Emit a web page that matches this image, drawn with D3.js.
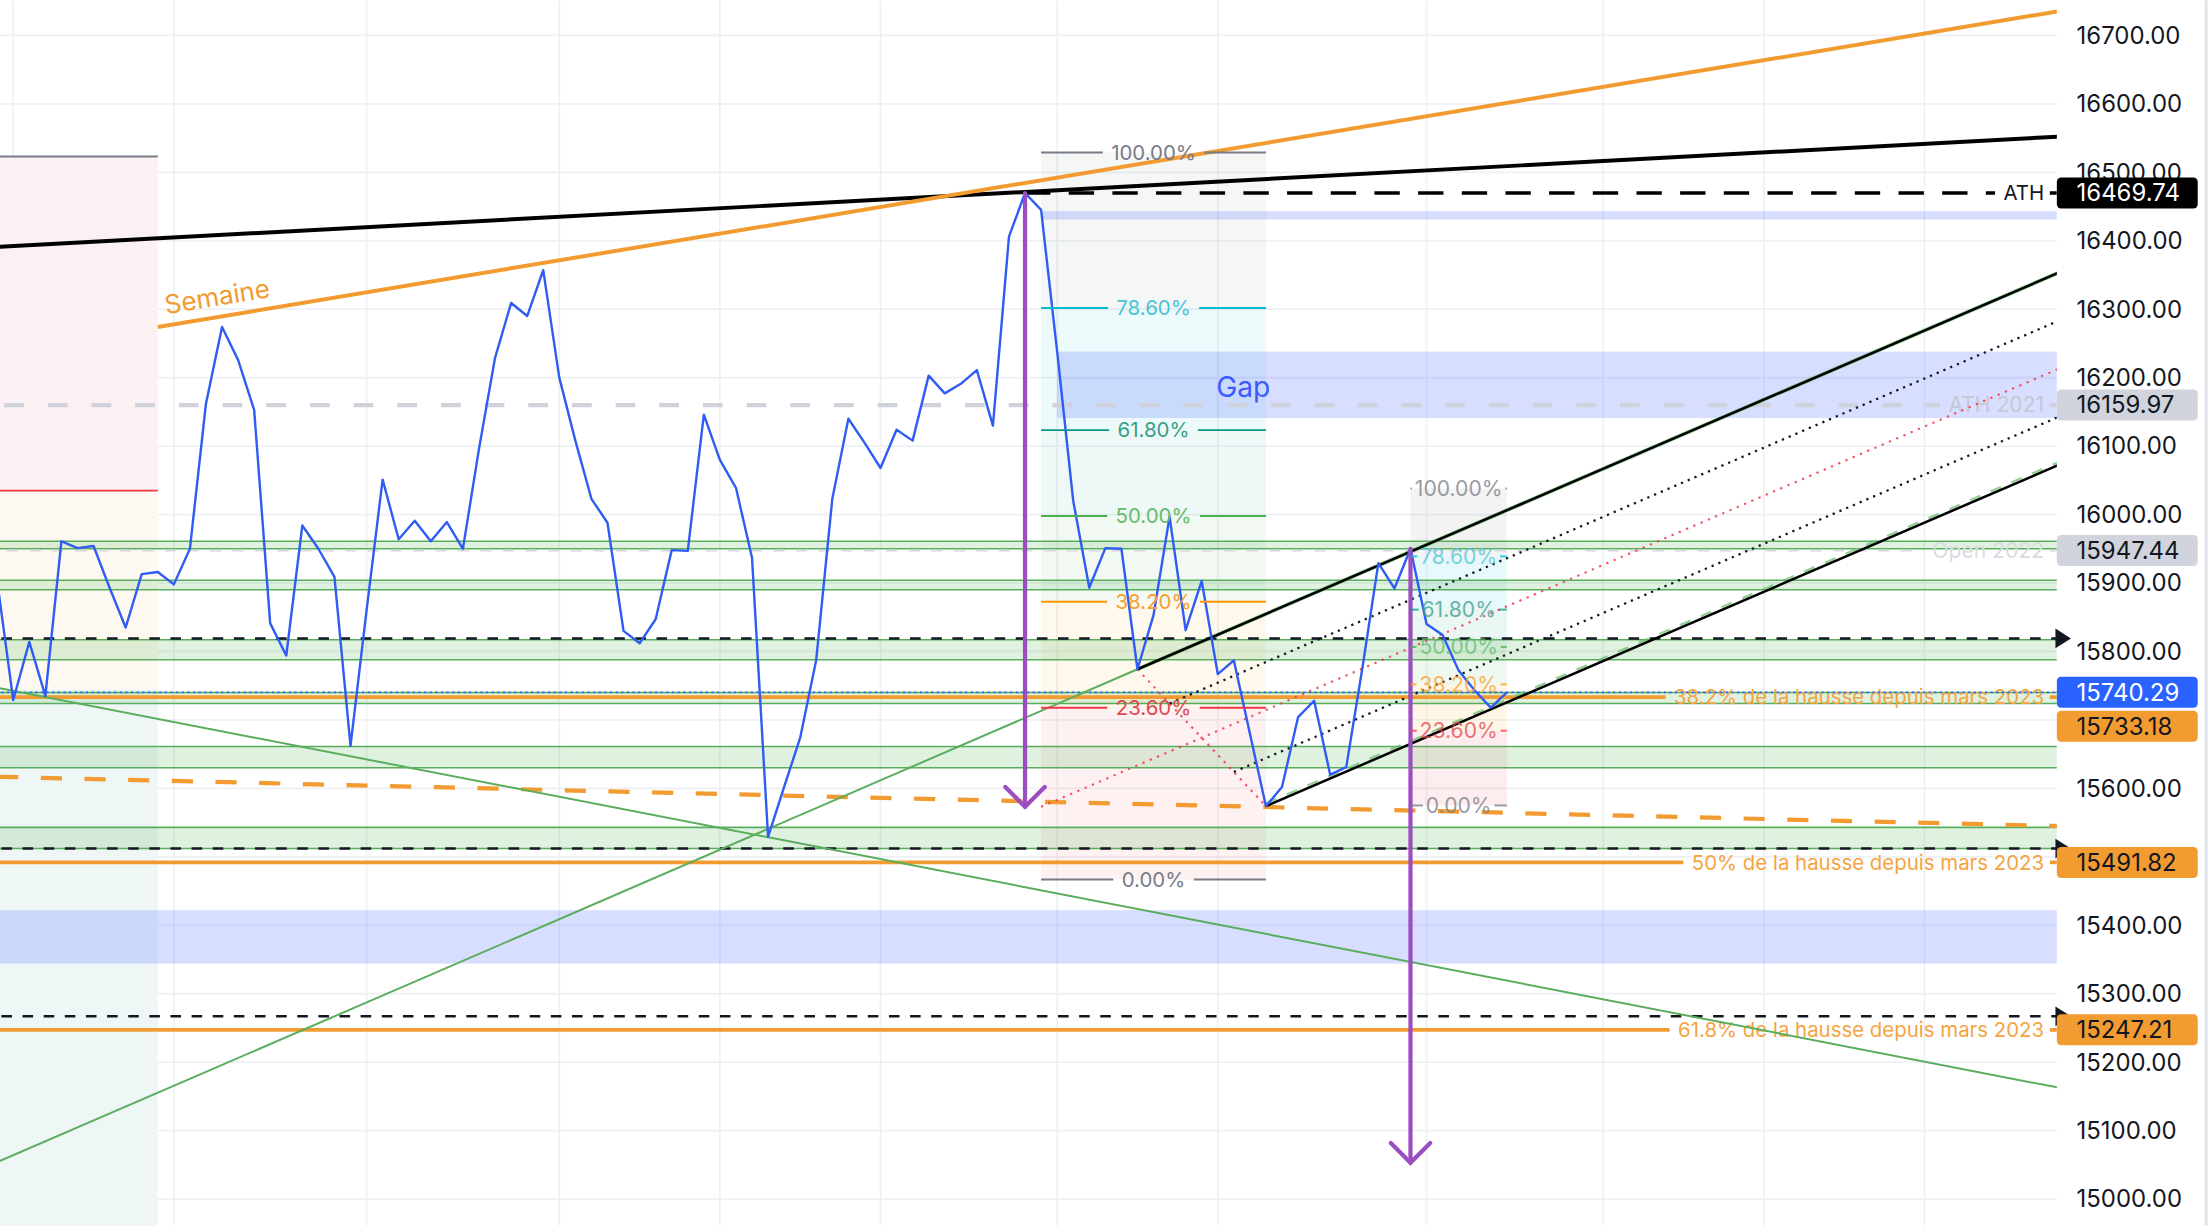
<!DOCTYPE html>
<html>
<head>
<meta charset="utf-8">
<script src="https://cdn.jsdelivr.net/npm/d3@7"></script>
<style>
  body { margin: 0; background: #fff; }
  svg { display: block; }
  text { font-family: Inter, "Noto Sans", "DejaVu Sans", sans-serif; }
</style>
</head>
<body>
<svg id="chart"></svg>
<script>
// ---- data ----
const closes = [
  15903, 15729, 15814, 15735, 15961, 15951, 15954, 15893, 15835, 15913,
  15916, 15898, 15950, 16162, 16274, 16226, 16153, 15841, 15794, 15984,
  15950, 15909, 15662, 15860, 16051, 15964, 15991, 15961, 15989, 15950,
  16096, 16229, 16309, 16290, 16357, 16200, 16108, 16023, 15988, 15830,
  15812, 15847, 15948, 15947, 16146, 16080, 16039, 15937, 15529, 15602,
  15674, 15788, 16023, 16140, 16105, 16068, 16124, 16108, 16203, 16177,
  16191, 16211, 16130, 16406, 16469.74, 16445, 16238, 16020, 15893, 15951,
  15950, 15774, 15853, 15997, 15831, 15903, 15767, 15787, 15680, 15574,
  15602, 15704, 15728, 15620, 15631, 15775, 15929, 15892, 15950, 15840,
  15824, 15772, 15743, 15718, 15740.29
]
const gridIdx = [1, 11, 23, 35, 45, 55, 66, 76, 89, 100, 110, 120]
const yTicks = d3.range(15000, 16701, 100)

const greenZones = [[15961, 15950], [15904, 15890], [15817, 15788], [15740, 15724], [15661, 15630], [15543, 15512]]
const blueZones = [[65, 16443, 16431], [66, 16238, 16141], [-5, 15422, 15344]]   // start index, top, bottom
const rays = [15819, 15512, 15267]

const resistance = [[0, 16391], [128.3, 16552]]
const weekLine = [[10, 16274], [128.3, 16735]]
const orangeDash = [[0, 15617], [128.3, 15545]]
const greenDown = [[0, 15747], [128.3, 15163]]
const greenUp = [[0, 15054], [71, 15774]]
const pitchfork = [[65, 15573], [71, 15774], [79, 15574]]

const fibRatios = [1, 0.786, 0.618, 0.5, 0.382, 0.236, 0]
const fibA = [65, 79, 16529, 15467]
const fibB = [88, 94, 16038, 15575]
const arrows = [[64, 16469.74, 15573], [88, 15950, 15053]]
const posBox = [-5, 10, 16523, 16035, 15745, 14900]

const athLevel = 16469.74
const ath2021 = 16159.97
const open2022 = 15947.44
const lastPrice = 15740.29
const riseLevels = [15733.18, 15491.82, 15247.21]
const riseLabels = ['38.2% de la hausse depuis mars 2023', '50% de la hausse depuis mars 2023', '61.8% de la hausse depuis mars 2023']
const priceTags = [16469.74, 16159.97, 15947.44, 15740.29, 15733.18, 15491.82, 15247.21]

// ---- layout ----
const W = 1568, H = 870, plotW = 1460
const svg = d3.select('#chart')
    .attr('width', 2209)
    .attr('height', 1226)
    .attr('viewBox', `0 0 ${W} ${H}`)

const x = d3.scaleLinear().domain([0, closes.length - 1]).range([-2, 1069.6])
const y = d3.scaleLinear().domain([15000, 16700]).range([851, 25])
const xEnd = x.invert(plotW)

svg.append('defs').append('clipPath').attr('id', 'plotClip')
    .append('rect').attr('width', plotW).attr('height', H)
const plot = svg.append('g').attr('clip-path', 'url(#plotClip)')

const line = d3.line().x(d => x(d[0])).y(d => y(d[1]))

const hline = (g, price, i1, i2) => g.append('line')
    .attr('x1', x(i1)).attr('x2', x(i2))
    .attr('y1', y(price)).attr('y2', y(price))

// grid
plot.append('g').selectAll('line').data(yTicks).join('line')
    .attr('x1', 0).attr('x2', plotW)
    .attr('y1', d => y(d)).attr('y2', d => y(d))
    .attr('stroke', '#eef0f4').attr('stroke-width', 1.2)
plot.append('g').selectAll('line').data(gridIdx).join('line')
    .attr('x1', d => x(d)).attr('x2', d => x(d))
    .attr('y1', 0).attr('y2', H)
    .attr('stroke', '#eef0f4').attr('stroke-width', 1.2)

// left position box
{
    const [a, b, target, stop, entry, bottom] = posBox
    const g = plot.append('g')
    const zone = (top, bot, fill) => g.append('rect')
        .attr('x', x(a)).attr('width', x(b) - x(a))
        .attr('y', y(top)).attr('height', y(bot) - y(top))
        .attr('fill', fill)
    zone(target, stop, '#fbf1f2')
    zone(stop, entry, '#fdf9f1')
    zone(entry, bottom, '#eff7f6')
    hline(g, target, a, b).attr('stroke', '#787b86').attr('stroke-width', 1.5)
    hline(g, stop, a, b).attr('stroke', '#f23645').attr('stroke-width', 1.2)
}

// fib retracements
const fibColors = ['#787b86', '#00bcd4', '#089981', '#4caf50', '#ff9800', '#f23645', '#787b86']
const fibText = ['#787b86', '#4cc3d6', '#3a9f87', '#66bb6a', '#f5a030', '#e0474c', '#787b86']
const fibLevels = f => fibRatios.map(r => f[3] + r * (f[2] - f[3]))

const fibZones = (f, alpha) => {
    const lv = fibLevels(f)
    const g = plot.append('g')
    for (let k = 0; k < lv.length - 1; k++) {
        g.append('rect')
            .attr('x', x(f[0])).attr('width', x(f[1]) - x(f[0]))
            .attr('y', y(lv[k])).attr('height', y(lv[k + 1]) - y(lv[k]))
            .attr('fill', fibColors[k]).attr('fill-opacity', alpha)
    }
}
fibZones(fibA, 0.07)
fibZones(fibB, 0.09)

// blue zones
plot.append('g').selectAll('rect').data(blueZones).join('rect')
    .attr('x', d => x(d[0])).attr('width', d => plotW - x(d[0]))
    .attr('y', d => y(d[1])).attr('height', d => y(d[2]) - y(d[1]))
    .attr('fill', '#3d5afe').attr('fill-opacity', 0.2)

// green zones
{
    const g = plot.append('g')
    g.selectAll('rect').data(greenZones).join('rect')
        .attr('x', 0).attr('width', plotW)
        .attr('y', d => y(d[0])).attr('height', d => y(d[1]) - y(d[0]))
        .attr('fill', '#4caf50').attr('fill-opacity', 0.18)
    greenZones.flat().forEach(p => hline(g, p, -5, xEnd)
        .attr('stroke', '#5aad5c').attr('stroke-width', 1.1))
}

// horizontal line with a label at its right end
const labeledLine = (price, from, label, lineStyle, textFill, fontSize) => {
    const g = plot.append('g')
    const t = g.append('text')
        .attr('x', 1451).attr('y', y(price)).attr('dy', '0.35em')
        .attr('text-anchor', 'end').attr('font-size', fontSize)
        .attr('fill', textFill).text(label)
    const tw = t.node().getComputedTextLength()
    const l1 = g.insert('line', 'text')
        .attr('x1', x(from)).attr('x2', 1451 - tw - 6)
        .attr('y1', y(price)).attr('y2', y(price))
    const l2 = g.insert('line', 'text')
        .attr('x1', 1455).attr('x2', plotW)
        .attr('y1', y(price)).attr('y2', y(price))
    ;[l1, l2].forEach(l => lineStyle(l))
}

labeledLine(ath2021, -5, 'ATH 2021',
    l => l.attr('stroke', '#cfd2da').attr('stroke-width', 3).attr('stroke-dasharray', '14 17'),
    '#c6c9d3', 15)
labeledLine(open2022, -5, 'Open 2022',
    l => l.attr('stroke', '#d6d8de').attr('stroke-width', 1.3).attr('stroke-dasharray', '8 8'),
    '#d9dbe1', 15)

// orange dashed trend
plot.append('path').attr('d', line(orangeDash))
    .attr('fill', 'none').attr('stroke', '#f29b30').attr('stroke-width', 3)
    .attr('stroke-dasharray', '15 16')

// dashed rays with arrows
rays.forEach(p => {
    hline(plot, p, -5, xEnd).attr('stroke', '#131722').attr('stroke-width', 1.8)
        .attr('stroke-dasharray', '7.5 7.5')
})

// rise levels
riseLevels.forEach((p, k) => labeledLine(p, -5, riseLabels[k],
    l => l.attr('stroke', '#f29b30').attr('stroke-width', 2.6),
    '#f5a442', 14.5))

// last price dotted
hline(plot, lastPrice, -5, xEnd).attr('stroke', '#2962ff').attr('stroke-width', 1.2)
    .attr('stroke-dasharray', '1.5 2.5')

// trend lines
plot.append('path').attr('d', line(greenDown))
    .attr('fill', 'none').attr('stroke', '#5aad5c').attr('stroke-width', 1.4)
plot.append('path').attr('d', line(greenUp))
    .attr('fill', 'none').attr('stroke', '#5aad5c').attr('stroke-width', 1.4)
plot.append('path').attr('d', line(resistance))
    .attr('fill', 'none').attr('stroke', '#000').attr('stroke-width', 2.8)
plot.append('path').attr('d', line(weekLine))
    .attr('fill', 'none').attr('stroke', '#f29b30').attr('stroke-width', 2.8)

{
    const [p1, p2] = weekLine
    const ang = Math.atan2(y(p2[1]) - y(p1[1]), x(p2[0]) - x(p1[0])) * 180 / Math.PI
    const tx = x(p1[0]) + 6, ty = y(p1[1]) - 9
    plot.append('text').attr('x', tx).attr('y', ty)
        .attr('transform', `rotate(${ang},${tx},${ty})`)
        .attr('font-size', 18.5).attr('fill', '#f29b30').text('Semaine')
}

// ATH level
labeledLine(athLevel, 64, 'ATH',
    l => l.attr('stroke', '#000').attr('stroke-width', 2.6).attr('stroke-dasharray', '18 13'),
    '#131722', 14.5)

// pitchfork
{
    const [pA, pB, pC] = pitchfork
    const mid = [(pB[0] + pC[0]) / 2, (pB[1] + pC[1]) / 2]
    const slope = (mid[1] - pA[1]) / (mid[0] - pA[0])
    const ext = p => [p, [xEnd + 1, p[1] + slope * (xEnd + 1 - p[0])]]
    const along = t => [pB[0] + (pC[0] - pB[0]) * t, pB[1] + (pC[1] - pB[1]) * t]
    const g = plot.append('g').attr('fill', 'none')
    g.append('path').attr('d', line([pB, pC]))
        .attr('stroke', '#f23645').attr('stroke-width', 1.5).attr('stroke-dasharray', '1.6 4').attr('opacity', 0.85)
    g.append('path').attr('d', line(ext(pA)))
        .attr('stroke', '#f23645').attr('stroke-width', 1.5).attr('stroke-dasharray', '1.6 4').attr('opacity', 0.85)
    ;[along(0.25), along(0.75)].forEach(p => g.append('path').attr('d', line(ext(p)))
        .attr('stroke', '#131722').attr('stroke-width', 1.6).attr('stroke-dasharray', '1.6 3.6'))
    g.append('path').attr('d', line(ext(pB)))
        .attr('stroke', '#4caf50').attr('stroke-width', 2.8).attr('opacity', 0.6)
    g.append('path').attr('d', line(ext(pB)))
        .attr('stroke', '#000').attr('stroke-width', 1.8)
    g.append('path').attr('d', line(ext(pC))).attr('transform', 'translate(0,-2)')
        .attr('stroke', '#66bb6a').attr('stroke-width', 1.6).attr('stroke-dasharray', '8 8').attr('opacity', 0.7)
    g.append('path').attr('d', line(ext(pC)))
        .attr('stroke', '#000').attr('stroke-width', 1.8)
}

// price line
plot.append('path').attr('d', line(closes.map((c, i) => [i, c])))
    .attr('fill', 'none').attr('stroke', '#2f5cf2').attr('stroke-width', 1.7)
    .attr('stroke-linejoin', 'round')

// purple arrows
arrows.forEach(([i, top, bot]) => {
    const ax = x(i), y1 = y(top), y2 = y(bot)
    const g = plot.append('g').attr('fill', 'none').attr('stroke', '#9c4dc0')
        .attr('stroke-width', 3).attr('stroke-linecap', 'round')
    g.append('line').attr('x1', ax).attr('x2', ax).attr('y1', y1).attr('y2', y2)
    g.append('polyline').attr('points', `${ax - 14},${y2 - 14} ${ax},${y2} ${ax + 14},${y2 - 14}`)
})

// fib levels and labels
const fibLines = (f, fontSize, gap, opacity) => {
    const lv = fibLevels(f)
    const g = plot.append('g')
    const cx = (x(f[0]) + x(f[1])) / 2
    lv.forEach((p, k) => {
        const t = g.append('text')
            .attr('x', cx).attr('y', y(p)).attr('dy', '0.35em')
            .attr('text-anchor', 'middle').attr('font-size', fontSize)
            .attr('fill', fibText[k]).attr('opacity', opacity)
            .text(d3.format('.2f')(fibRatios[k] * 100) + '%')
        const tw = t.node().getComputedTextLength()
        const segs = [[x(f[0]), cx - tw / 2 - gap], [cx + tw / 2 + gap, x(f[1])]]
        segs.forEach(s => {
            if (s[1] > s[0]) g.insert('line', 'text')
                .attr('x1', s[0]).attr('x2', s[1])
                .attr('y1', y(p)).attr('y2', y(p))
                .attr('stroke', fibColors[k]).attr('stroke-width', 1.4).attr('opacity', opacity)
        })
    })
}
fibLines(fibA, 14.5, 6, 1)
fibLines(fibB, 15, 2, 0.75)

// gap text
plot.append('text').attr('x', x(75.9)).attr('y', y(16172))
    .attr('font-size', 20).attr('fill', '#3d5afe').text('Gap')

// ray arrow heads (drawn over the axis edge)
svg.append('g').selectAll('path').data(rays).join('path')
    .attr('d', d => `M${plotW - 1},${y(d) - 7} L${plotW + 10},${y(d)} L${plotW - 1},${y(d) + 7} Z`)
    .attr('fill', '#131722')

// price tag positions, pushed apart where they would collide
const tagStyle = [['#000', '#fff'], ['#d1d4dc', '#131722'], ['#d1d4dc', '#131722'], ['#2962ff', '#fff'],
    ['#f29b30', '#131722'], ['#f29b30', '#131722'], ['#f29b30', '#131722']]
const tags = priceTags.map((p, k) => ({ p, ty: y(p), bg: tagStyle[k][0], fg: tagStyle[k][1] }))
    .sort((a, b) => a.ty - b.ty)
for (let k = 1; k < tags.length; k++) {
    if (tags[k].ty - tags[k - 1].ty < 23) tags[k].ty = tags[k - 1].ty + 24
}

// right axis: ticks that sit under a price tag are left out, as in the picture
const shownTicks = yTicks.filter(t => !tags.some(tg => Math.abs(y(t) - tg.ty) < 11))
const axisG = svg.append('g')
    .attr('transform', `translate(${plotW},0)`)
    .call(d3.axisRight(y)
        .tickValues(shownTicks)
        .tickFormat(d3.format('.2f'))
        .tickSize(0)
        .tickPadding(14))
    .attr('font-family', 'Inter, "Noto Sans", sans-serif')
    .attr('font-size', 17)
    .attr('color', '#131722')
axisG.select('.domain').remove()

svg.append('line').attr('x1', 1566).attr('x2', 1566).attr('y1', 0).attr('y2', H)
    .attr('stroke', '#e0e3eb').attr('stroke-width', 2)

// price tags
{
    const g = svg.append('g')
    tags.forEach(t => {
        g.append('rect').attr('x', plotW).attr('y', t.ty - 11).attr('width', 100).attr('height', 22)
            .attr('rx', 3).attr('fill', t.bg)
        g.append('text').attr('x', plotW + 14).attr('y', t.ty).attr('dy', '0.35em')
            .attr('font-size', 17).attr('fill', t.fg).text(d3.format('.2f')(t.p))
    })
}
</script>
</body>
</html>
